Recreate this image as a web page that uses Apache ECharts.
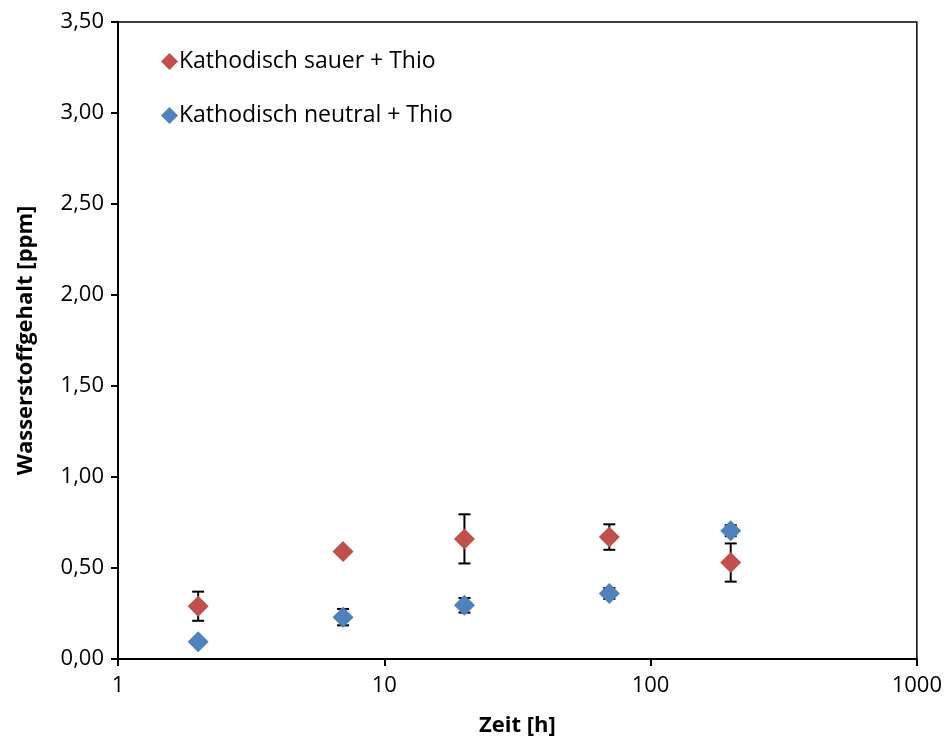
<!DOCTYPE html>
<html>
<head>
<meta charset="utf-8">
<script src="https://cdn.jsdelivr.net/npm/echarts@6/dist/echarts.min.js"></script>
<style>html,body{margin:0;padding:0;background:#fff}#c{width:945px;height:742px}</style>
</head>
<body>
<div id="c"></div>
<script>
var seriesNames = ['Kathodisch sauer + Thio', 'Kathodisch neutral + Thio'];
var timeH = [2, 7, 20, 70, 200];
var sauerVals = [0.29, 0.59, 0.66, 0.67, 0.53];
var sauerErr = [0.08, 0.0, 0.135, 0.07, 0.105];
var neutralVals = [0.095, 0.23, 0.295, 0.36, 0.705];
var neutralErr = [0.0, 0.045, 0.04, 0.03, 0.03];
var yTicks = [0, 0.5, 1, 1.5, 2, 2.5, 3, 3.5];
var xTicks = [1, 10, 100, 1000];
var colors = ['#C0504D', '#4F81BD'];

var FONT = 'Open Sans';

function errData(vals, errs) {
  return timeH.map(function (t, i) { return [t, vals[i] - errs[i], vals[i] + errs[i]]; });
}
function renderErr(params, api) {
  var x = api.value(0);
  var lo = api.coord([x, api.value(1)]);
  var hi = api.coord([x, api.value(2)]);
  if (Math.abs(hi[1] - lo[1]) < 1) return null;
  var w = 6;
  var st = { stroke: '#000', lineWidth: 2 };
  return {
    type: 'group',
    children: [
      { type: 'line', shape: { x1: lo[0], y1: lo[1], x2: hi[0], y2: hi[1] }, style: st },
      { type: 'line', shape: { x1: lo[0] - w, y1: lo[1], x2: lo[0] + w, y2: lo[1] }, style: st },
      { type: 'line', shape: { x1: hi[0] - w, y1: hi[1], x2: hi[0] + w, y2: hi[1] }, style: st }
    ]
  };
}

var chart = echarts.init(document.getElementById('c'));
chart.setOption({
  animation: false,
  backgroundColor: '#fff',
  grid: { left: 118, right: 27, top: 22, bottom: 79, show: true, borderColor: '#000', borderWidth: 1.5, backgroundColor: 'transparent' },
  legend: {
    orient: 'vertical', left: 156, top: 45, itemGap: 31,
    icon: 'diamond', itemWidth: 17, itemHeight: 17,
    data: seriesNames,
    textStyle: { fontFamily: FONT, fontSize: 23, color: '#000', padding: [0, 0, 0, -4] }
  },
  xAxis: {
    type: 'log', logBase: 10, min: 1, max: 1000,
    name: 'Zeit [h]', nameLocation: 'middle', nameGap: 56,
    nameTextStyle: { fontFamily: FONT, fontSize: 22, fontWeight: 'bold', color: '#000' },
    axisLine: { show: true, lineStyle: { color: '#000', width: 2 } },
    axisTick: { show: true, inside: false, length: 7, lineStyle: { color: '#000', width: 2 } },
    minorTick: { show: false },
    splitLine: { show: false },
    axisLabel: {
      fontFamily: FONT, fontSize: 22, color: '#000', margin: 16,
      formatter: function (v) {
        var t = xTicks.find(function (x) { return Math.abs(x - v) / x < 1e-6; });
        return String(t !== undefined ? t : Math.round(v));
      }
    }
  },
  yAxis: {
    type: 'value', min: 0, max: 3.5, interval: 0.5,
    name: 'Wasserstoffgehalt [ppm]', nameLocation: 'middle', nameGap: 81,
    nameTextStyle: { fontFamily: FONT, fontSize: 22, fontWeight: 'bold', color: '#000' },
    axisLine: { show: true, lineStyle: { color: '#000', width: 2 } },
    axisTick: { show: true, inside: false, length: 7, lineStyle: { color: '#000', width: 2 } },
    splitLine: { show: false },
    axisLabel: {
      fontFamily: FONT, fontSize: 22, color: '#000', margin: 14,
      formatter: function (v) {
        var t = yTicks.find(function (y) { return Math.abs(y - v) < 1e-9; });
        return (t !== undefined ? t : v).toFixed(2).replace('.', ',');
      }
    }
  },
  series: [
    { type: 'custom', name: 'errS', renderItem: renderErr, data: errData(sauerVals, sauerErr), z: 1, silent: true },
    { type: 'custom', name: 'errN', renderItem: renderErr, data: errData(neutralVals, neutralErr), z: 1, silent: true },
    {
      type: 'scatter', name: seriesNames[0], symbol: 'diamond', symbolSize: [21, 21],
      itemStyle: { color: colors[0], opacity: 1 }, z: 3,
      data: timeH.map(function (t, i) { return [t, sauerVals[i]]; })
    },
    {
      type: 'scatter', name: seriesNames[1], symbol: 'diamond', symbolSize: [21, 21],
      itemStyle: { color: colors[1], opacity: 1 }, z: 3,
      data: timeH.map(function (t, i) { return [t, neutralVals[i]]; })
    }
  ]
});
</script>
</body>
</html>
